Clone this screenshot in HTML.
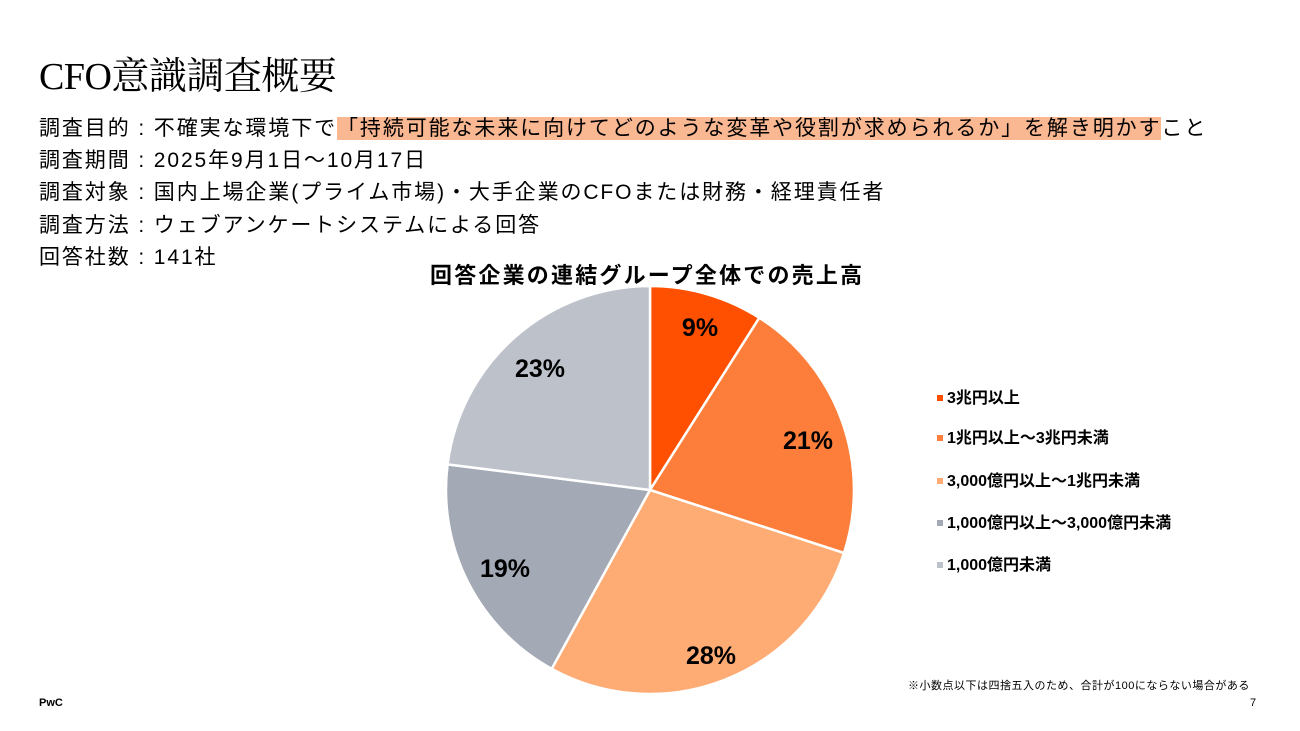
<!DOCTYPE html>
<html><head><meta charset="utf-8"><style>
body{margin:0;width:1300px;height:731px;background:#fff;overflow:hidden;position:relative;font-family:"Liberation Sans","Noto Sans CJK JP",sans-serif;color:#000}
.t{position:absolute;left:39px;top:52px;font-family:"Liberation Serif","Noto Serif CJK SC",serif;font-size:38px;line-height:50px;letter-spacing:-0.5px}
.l{position:absolute;left:39px;font-size:21px;line-height:30px;white-space:nowrap;letter-spacing:1.9px}
.hl{background:#F9B792}
.lg{position:absolute;left:937px;font-size:16px;font-weight:bold;white-space:nowrap;line-height:20px}
.lg i{display:inline-block;width:6px;height:6px;margin-right:4px;vertical-align:middle;position:relative;top:-1px}
</style></head><body>
<div class="t">CFO意識調査概要</div>
<div class="l" style="top:114px">調査目的 : 不確実な環境下で<span class="hl">「持続可能な未来に向けてどのような変革や役割が求められるか」を解き明かす</span>こと</div>
<div class="l" style="top:146px">調査期間 : 2025年9月1日～10月17日</div>
<div class="l" style="top:178px">調査対象 : 国内上場企業(プライム市場)・大手企業のCFOまたは財務・経理責任者</div>
<div class="l" style="top:211px">調査方法 : ウェブアンケートシステムによる回答</div>
<div class="l" style="top:243px">回答社数 : 141社</div>
<div style="position:absolute;left:430px;top:258px;font-size:22px;font-weight:bold;white-space:nowrap;letter-spacing:2.2px">回答企業の連結グループ全体での売上高</div>
<svg width="1300" height="731" style="position:absolute;left:0;top:0">
<g stroke="#fff" stroke-width="2.5">
<path d="M650,490 L650,286 A204,204 0 0 1 759.3,317.8 Z" fill="#FE5000"/>
<path d="M650,490 L759.3,317.8 A204,204 0 0 1 844,553 Z" fill="#FD7E3A"/>
<path d="M650,490 L844,553 A204,204 0 0 1 551.7,668.8 Z" fill="#FEAB74"/>
<path d="M650,490 L551.7,668.8 A204,204 0 0 1 447.6,464.4 Z" fill="#A3A9B5"/>
<path d="M650,490 L447.6,464.4 A204,204 0 0 1 650,286 Z" fill="#BDC2CA"/>
</g>
<g font-family="Liberation Sans Narrow,Liberation Sans,sans-serif" font-weight="bold" font-size="25" text-anchor="middle">
<text x="700" y="336">9%</text>
<text x="808" y="449">21%</text>
<text x="711" y="664">28%</text>
<text x="505" y="577">19%</text>
<text x="540" y="377">23%</text>
</g>
</svg>
<div class="lg" style="top:389px"><i style="background:#FE5000"></i>3兆円以上</div>
<div class="lg" style="top:429px"><i style="background:#FD7E3A"></i>1兆円以上～3兆円未満</div>
<div class="lg" style="top:472px"><i style="background:#FEAB74"></i>3,000億円以上～1兆円未満</div>
<div class="lg" style="top:514px"><i style="background:#A3A9B5"></i>1,000億円以上～3,000億円未満</div>
<div class="lg" style="top:556px"><i style="background:#BDC2CA"></i>1,000億円未満</div>
<div style="position:absolute;left:908px;top:677px;font-size:11px;white-space:nowrap;letter-spacing:0.5px">※小数点以下は四捨五入のため、合計が100にならない場合がある</div>
<div style="position:absolute;left:39px;top:697px;font-size:11px;font-weight:bold">PwC</div>
<div style="position:absolute;left:1250px;top:697px;font-size:11px">7</div>
</body></html>
